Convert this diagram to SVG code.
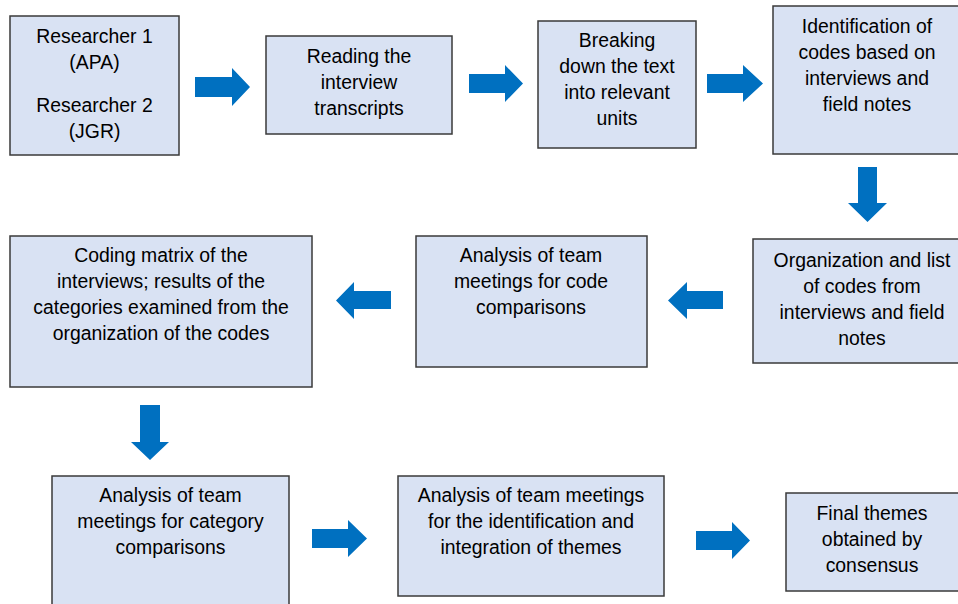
<svg xmlns="http://www.w3.org/2000/svg" width="958" height="604" viewBox="0 0 958 604">
<style>
.box{fill:#D9E2F3;stroke:#3a3a3a;stroke-width:1.5}
.t{font-family:"Liberation Sans",Arial,sans-serif;font-size:19.4px;fill:#000;text-anchor:middle}
.arr{fill:#0070C0}
</style>
<rect width="958" height="604" fill="#fff"/>
<g id="n1"><rect class="box" x="10" y="16" width="169" height="139"/>
<text class="t" x="94.5" y="43">Researcher 1</text><text class="t" x="94.5" y="69">(APA)</text>
<text class="t" x="94.5" y="112">Researcher 2</text><text class="t" x="94.5" y="138">(JGR)</text></g>
<g id="n2"><rect class="box" x="266" y="36" width="186" height="98"/>
<text class="t" x="359" y="63">Reading the</text><text class="t" x="359" y="89">interview</text><text class="t" x="359" y="115">transcripts</text></g>
<g id="n3"><rect class="box" x="538" y="21" width="158" height="127"/>
<text class="t" x="617" y="47">Breaking</text><text class="t" x="617" y="73">down the text</text><text class="t" x="617" y="99">into relevant</text><text class="t" x="617" y="125">units</text></g>
<g id="n4"><rect class="box" x="773" y="6" width="190" height="148"/>
<text class="t" x="867" y="33">Identification of</text><text class="t" x="867" y="59">codes based on</text><text class="t" x="867" y="85">interviews and</text><text class="t" x="867" y="111">field notes</text></g>
<g id="n5"><rect class="box" x="753" y="239" width="215" height="124"/>
<text class="t" x="862" y="267">Organization and list</text><text class="t" x="862" y="293">of codes from</text><text class="t" x="862" y="319">interviews and field</text><text class="t" x="862" y="345">notes</text></g>
<g id="n6"><rect class="box" x="416" y="236" width="231" height="131"/>
<text class="t" x="531" y="262">Analysis of team</text><text class="t" x="531" y="288">meetings for code</text><text class="t" x="531" y="314">comparisons</text></g>
<g id="n7"><rect class="box" x="10" y="236" width="302" height="151"/>
<text class="t" x="161" y="262">Coding matrix of the</text><text class="t" x="161" y="288">interviews; results of the</text><text class="t" x="161" y="314">categories examined from the</text><text class="t" x="161" y="340">organization of the codes</text></g>
<g id="n8"><rect class="box" x="52" y="476" width="237" height="140"/>
<text class="t" x="170.5" y="502">Analysis of team</text><text class="t" x="170.5" y="528">meetings for category</text><text class="t" x="170.5" y="554">comparisons</text></g>
<g id="n9"><rect class="box" x="398" y="476" width="266" height="120"/>
<text class="t" x="531" y="502">Analysis of team meetings</text><text class="t" x="531" y="528">for the identification and</text><text class="t" x="531" y="554">integration of themes</text></g>
<g id="n10"><rect class="box" x="786" y="493" width="180" height="98"/>
<text class="t" x="872" y="520">Final themes</text><text class="t" x="872" y="546">obtained by</text><text class="t" x="872" y="572">consensus</text></g>
<g id="connectors">
<polygon class="arr" points="195,77 232,77 232,68 250,87 232,106 232,97 195,97"/>
<polygon class="arr" points="469,74 505,74 505,65 523,83.5 505,102 505,93 469,93"/>
<polygon class="arr" points="707,74 743,74 743,65 763,83.5 743,102 743,93 707,93"/>
<polygon class="arr" points="858,167 877,167 877,203 887,203 867.5,222 848,203 858,203"/>
<polygon class="arr" points="723,291 687,291 687,282 668,300.5 687,319 687,309 723,309"/>
<polygon class="arr" points="391,291 354,291 354,282 336,300.5 354,319 354,309 391,309"/>
<polygon class="arr" points="140,405 160,405 160,442 169,442 150,460 131,442 140,442"/>
<polygon class="arr" points="312,529 348,529 348,520 367,538.5 348,557 348,548 312,548"/>
<polygon class="arr" points="696,531 732,531 732,522 750,540.5 732,559 732,550 696,550"/>
</g>
</svg>
